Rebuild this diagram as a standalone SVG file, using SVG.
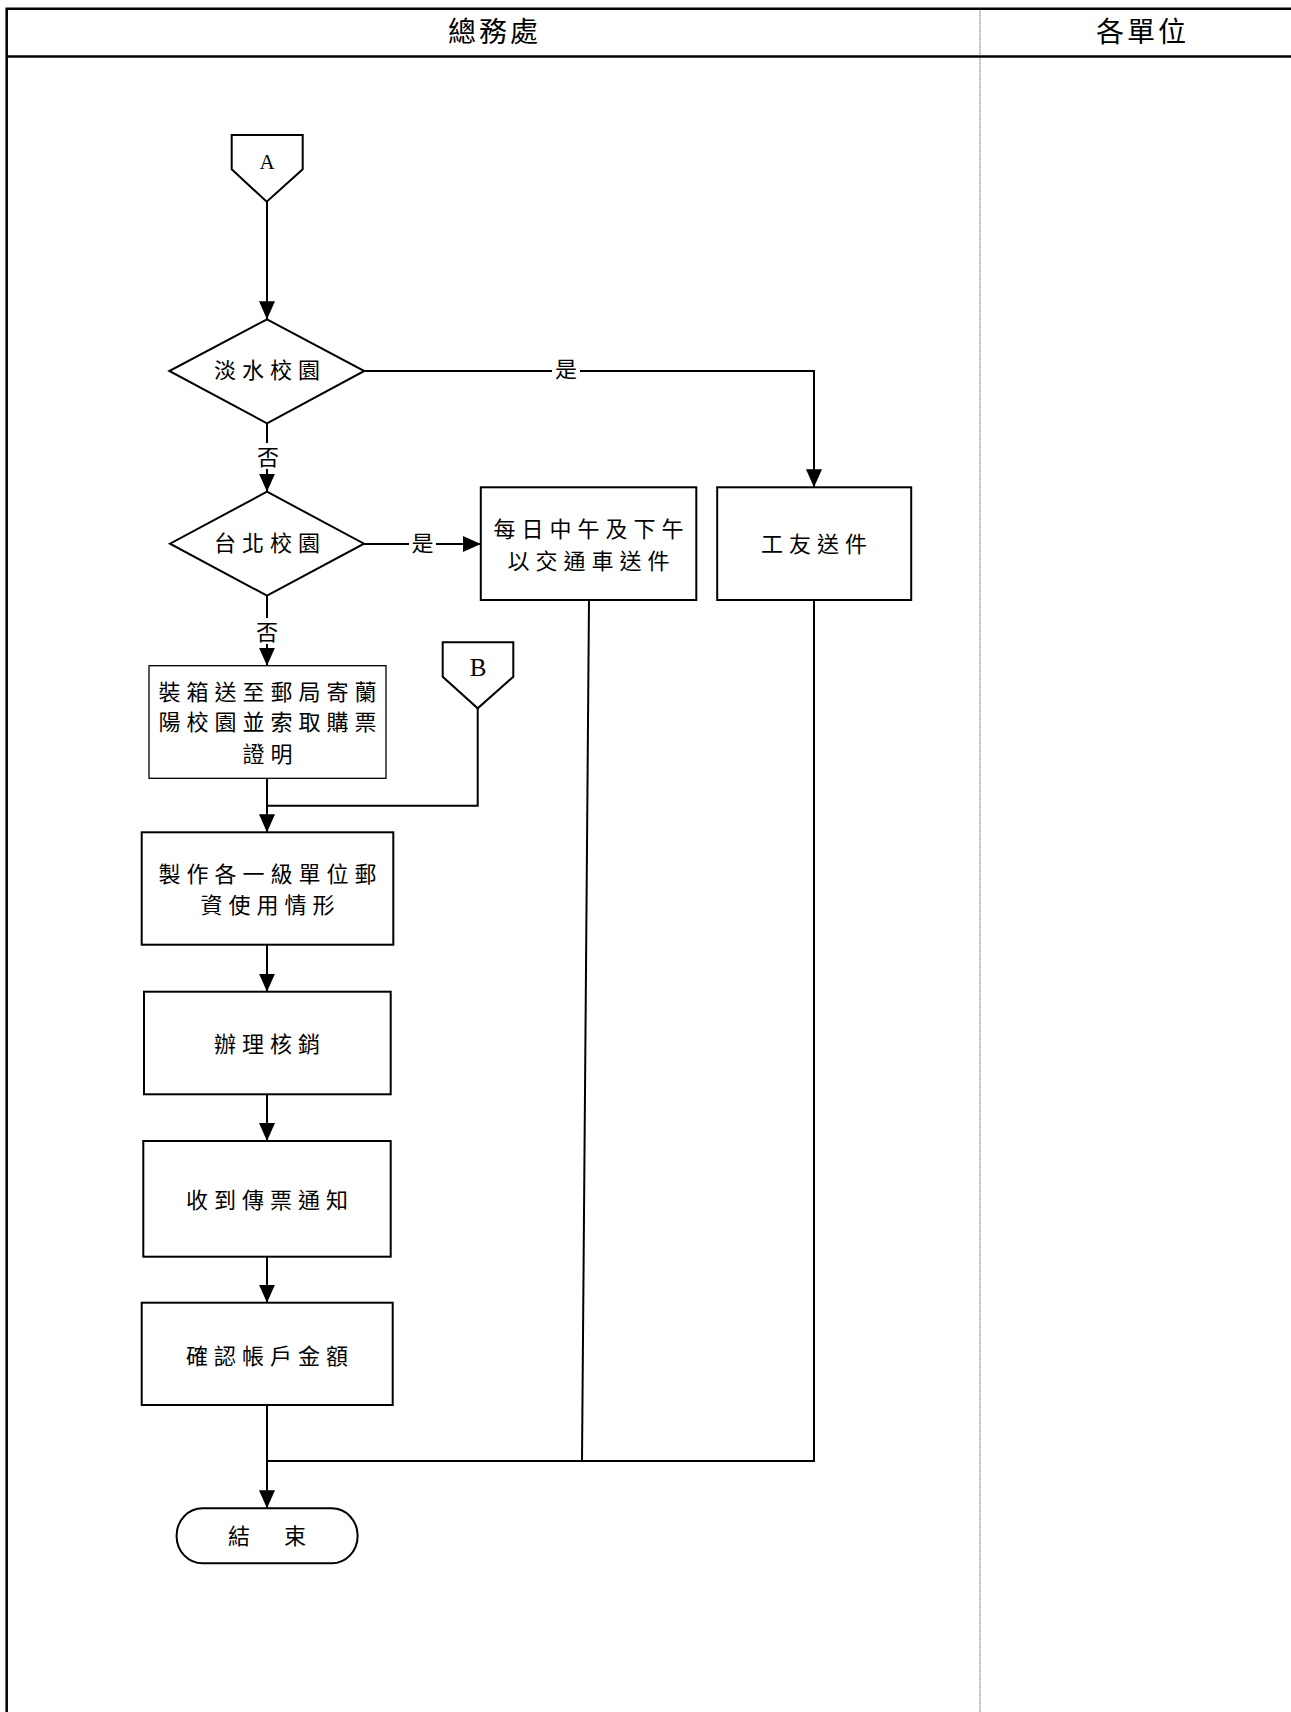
<svg xmlns="http://www.w3.org/2000/svg" width="1291" height="1712" viewBox="0 0 1291 1712">
<style>
.frame{fill:none;stroke:#000;stroke-width:2.5}
.lane{stroke:#333;stroke-width:1;stroke-dasharray:1,1}
.box{fill:#fff;stroke:#000;stroke-width:2}
.thin{fill:#fff;stroke:#000;stroke-width:1.3}
.con{fill:none;stroke:#000;stroke-width:2}
.t{font-family:"Noto Sans CJK TC","Noto Sans CJK SC",sans-serif;font-size:22px;fill:#000;text-anchor:middle;dominant-baseline:central;letter-spacing:6px}
.h{font-family:"Noto Sans CJK TC",sans-serif;font-size:28px;fill:#000;text-anchor:middle;dominant-baseline:central;letter-spacing:3px}
.l{font-family:"Liberation Serif",serif;fill:#000;text-anchor:middle;dominant-baseline:central}
.bg{fill:#fff}
</style>
<defs>
<marker id="arr" markerUnits="userSpaceOnUse" markerWidth="18" markerHeight="16" refX="18" refY="8" orient="auto">
<path d="M0,0 L18,8 L0,16 z" fill="#000"/>
</marker>
</defs>
<rect width="1291" height="1712" fill="#fff"/>
<g id="lanes">
<path class="frame" d="M1295,8.7 H6.7 V1715"/>
<line class="frame" x1="6.7" y1="56.5" x2="1295" y2="56.5"/>
<line class="lane" x1="980" y1="8.7" x2="980" y2="1712"/>
<text class="h" x="494.5" y="29.5">總務處</text>
<text class="h" x="1142.5" y="29.5">各單位</text>
</g>
<g id="connectors">
<line class="con" x1="267" y1="201.7" x2="267" y2="319.3" marker-end="url(#arr)"/>
<line class="con" x1="267" y1="423.3" x2="267" y2="491.7" marker-end="url(#arr)"/>
<path class="con" d="M364.3,371 H814 V487.3" marker-end="url(#arr)"/>
<line class="con" x1="364" y1="544" x2="480.8" y2="544" marker-end="url(#arr)"/>
<line class="con" x1="267" y1="595.7" x2="267" y2="665.7" marker-end="url(#arr)"/>
<path class="con" d="M477.7,708.3 V805.7 H267"/>
<line class="con" x1="267" y1="778.3" x2="267" y2="832.3" marker-end="url(#arr)"/>
<line class="con" x1="267" y1="944.7" x2="267" y2="991.7" marker-end="url(#arr)"/>
<line class="con" x1="267" y1="1094.3" x2="267" y2="1141" marker-end="url(#arr)"/>
<line class="con" x1="267" y1="1256.7" x2="267" y2="1302.7" marker-end="url(#arr)"/>
<line class="con" x1="267" y1="1405" x2="267" y2="1508.3" marker-end="url(#arr)"/>
<path class="con" d="M589,600 L582,1461"/>
<path class="con" d="M814,600 V1461 H267"/>
<rect class="bg" x="257" y="443" width="22" height="26"/>
<text class="t" x="268" y="455" style="letter-spacing:0">否</text>
<rect class="bg" x="256" y="618" width="22" height="26"/>
<text class="t" x="267" y="630" style="letter-spacing:0">否</text>
<rect class="bg" x="552" y="357" width="28" height="26"/>
<text class="t" x="566" y="367" style="letter-spacing:0">是</text>
<rect class="bg" x="409" y="531" width="27" height="26"/>
<text class="t" x="422.5" y="541" style="letter-spacing:0">是</text>
</g>
<g id="connA">
<path class="box" d="M231.7,135 H302.7 V169.3 L266.7,201.7 L231.7,169.3 Z"/>
<text class="l" x="267" y="162" font-size="21">A</text>
</g>
<g id="connB">
<path class="box" d="M442.7,642.3 H513.3 V676.7 L477.7,708.3 L442.7,676.7 Z"/>
<text class="l" x="478" y="667" font-size="25">B</text>
</g>
<g id="d1">
<path class="box" d="M267,319.3 L364.3,371 L267,423.3 L169.3,371 Z"/>
<text class="t" x="270" y="368">淡水校園</text>
</g>
<g id="d2">
<path class="box" d="M267,491.7 L364,543.7 L267,595.7 L170,543.7 Z"/>
<text class="t" x="270" y="541">台北校園</text>
</g>
<g id="bus">
<rect class="box" x="480.8" y="487.3" width="215.5" height="112.7"/>
<text class="t" x="591.5" y="527">每日中午及下午</text>
<text class="t" x="591.5" y="559">以交通車送件</text>
</g>
<g id="worker">
<rect class="box" x="717.2" y="487.3" width="194" height="112.7"/>
<text class="t" x="817" y="542">工友送件</text>
</g>
<g id="post">
<rect class="thin" x="149" y="665.7" width="237" height="112.6"/>
<text class="t" x="270.5" y="689.7">裝箱送至郵局寄蘭</text>
<text class="t" x="270.5" y="720.3">陽校園並索取購票</text>
<text class="t" x="270.5" y="752">證明</text>
</g>
<g id="make">
<rect class="box" x="141.7" y="832.3" width="251.6" height="112.4"/>
<text class="t" x="270.5" y="872">製作各一級單位郵</text>
<text class="t" x="270.5" y="903">資使用情形</text>
</g>
<g id="cancel">
<rect class="box" x="144" y="991.7" width="246.7" height="102.6"/>
<text class="t" x="270" y="1042">辦理核銷</text>
</g>
<g id="notice">
<rect class="box" x="143.3" y="1141" width="247.4" height="115.7"/>
<text class="t" x="270" y="1198">收到傳票通知</text>
</g>
<g id="confirm">
<rect class="box" x="141.7" y="1302.7" width="251" height="102.3"/>
<text class="t" x="270" y="1353.7">確認帳戶金額</text>
</g>
<g id="end">
<rect class="box" x="176.6" y="1508.3" width="181" height="55" rx="26" ry="27"/>
<text class="t" x="270" y="1533.7">結　束</text>
</g>
</svg>
